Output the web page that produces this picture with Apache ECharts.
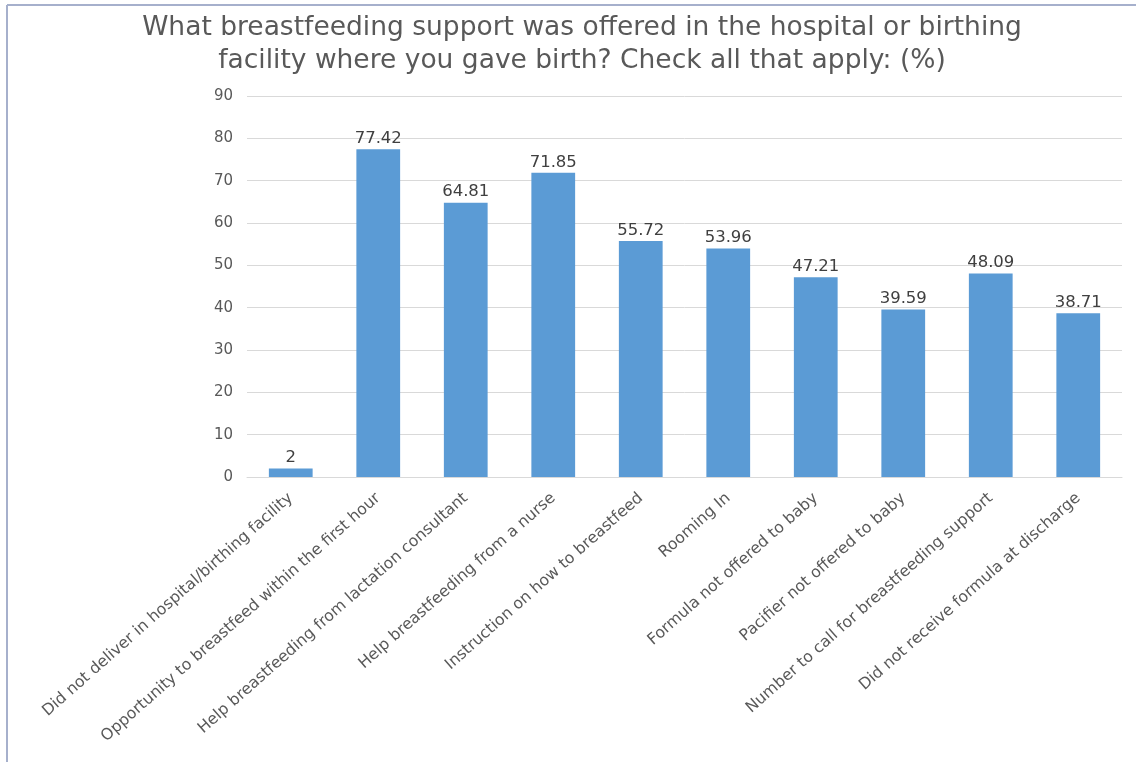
<!DOCTYPE html>
<html>
<head>
<meta charset="utf-8">
<script src="https://cdn.jsdelivr.net/npm/echarts@6/dist/echarts.min.js"></script>
<style>
  html, body { margin: 0; padding: 0; background: #ffffff; }
  #chart { width: 1136px; height: 762px; }
</style>
</head>
<body>
<div id="chart"></div>
<script>
// Survey responses: breastfeeding support offered at the birthing facility
const titleText = 'What breastfeeding support was offered in the hospital or birthing\nfacility where you gave birth? Check all that apply: (%)';

const categories = [
  'Did not deliver in hospital/birthing facility',
  'Opportunity to breastfeed within the first hour',
  'Help breastfeeding from lactation consultant',
  'Help breastfeeding from a nurse',
  'Instruction on how to breastfeed',
  'Rooming In',
  'Formula not offered to baby',
  'Pacifier not offered to baby',
  'Number to call for breastfeeding support',
  'Did not receive formula at discharge'
];

const percentages = [2, 77.42, 64.81, 71.85, 55.72, 53.96, 47.21, 39.59, 48.09, 38.71];

const yMin = 0;
const yMax = 90;
const yStep = 10;

const fontFamily = '"DejaVu Sans", "Noto Sans", sans-serif';

const chart = echarts.init(document.getElementById('chart'));

chart.setOption({
  backgroundColor: '#ffffff',
  animation: false,
  title: {
    text: titleText,
    left: 577,
    textAlign: 'center',
    top: 7,
    textStyle: {
      fontFamily: fontFamily,
      fontSize: 26.5,
      fontWeight: 'normal',
      color: '#595959',
      lineHeight: 33
    }
  },
  grid: {
    left: 247,
    right: 14,
    top: 96,
    bottom: 285,
    containLabel: false
  },
  xAxis: {
    type: 'category',
    data: categories,
    axisLine: { show: true, lineStyle: { color: '#d9d9d9', width: 1 } },
    axisTick: { show: false },
    axisLabel: {
      interval: 0,
      rotate: 41.5,
      margin: 19,
      fontFamily: fontFamily,
      fontSize: 15.8,
      color: '#595959'
    }
  },
  yAxis: {
    type: 'value',
    min: yMin,
    max: yMax,
    interval: yStep,
    axisLine: { show: false },
    axisTick: { show: false },
    splitLine: { lineStyle: { color: '#d9d9d9', width: 1 } },
    axisLabel: {
      margin: 14,
      fontFamily: fontFamily,
      fontSize: 15,
      color: '#595959'
    }
  },
  series: [{
    type: 'bar',
    data: percentages,
    barWidth: '50%',
    itemStyle: { color: '#5b9bd5' },
    label: {
      show: true,
      position: 'top',
      distance: 2,
      fontFamily: fontFamily,
      fontSize: 16.5,
      color: '#404040'
    }
  }],
  graphic: [
    {
      type: 'line',
      shape: { x1: 7, y1: 5, x2: 1136, y2: 5 },
      style: { stroke: '#a6b0cc', lineWidth: 2 }
    },
    {
      type: 'line',
      shape: { x1: 7, y1: 5, x2: 7, y2: 762 },
      style: { stroke: '#a6b0cc', lineWidth: 2 }
    }
  ]
});
</script>
</body>
</html>
